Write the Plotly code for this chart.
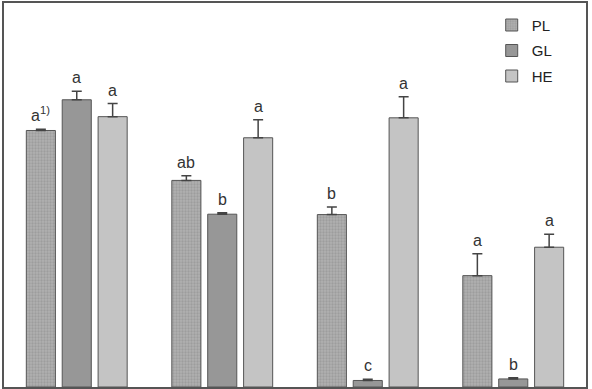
import plotly.graph_objects as go

groups = ["G1", "G2", "G3", "G4"]
series = ["PL", "GL", "HE"]
values = {
    "PL": [66.8, 53.8, 44.9, 29.0],
    "GL": [74.8, 45.0, 1.7, 2.1],
    "HE": [70.4, 64.9, 70.1, 36.4],
}
errors = {
    "PL": [0.3, 1.2, 2.0, 5.7],
    "GL": [2.2, 0.4, 0.3, 0.3],
    "HE": [3.4, 4.7, 5.5, 3.4],
}
letters = {
    "PL": ["a<sup>1)</sup>", "ab", "b", "a"],
    "GL": ["a", "b", "c", "b"],
    "HE": ["a", "a", "a", "a"],
}

styles = {
    "PL": dict(color="#b0b0b0", pattern=dict(shape=".", fgcolor="#8a8a8a", bgcolor="#b0b0b0", size=3, solidity=0.45)),
    "GL": dict(color="#979797"),
    "HE": dict(color="#c4c4c4"),
}

bargap = 0.26
bargroupgap = 0.19
slot = (1 - bargap) / len(series)

fig = go.Figure()
for j, s in enumerate(series):
    fig.add_trace(go.Bar(
        name=s, x=groups, y=values[s], legendgroup=s,
        marker=dict(line=dict(color="#555555", width=1), **styles[s]),
        error_y=dict(type="data", array=errors[s], symmetric=False, arrayminus=[0]*4,
                     color="#444444", thickness=1.5, width=5),
    ))

annotations = []
for j, s in enumerate(series):
    for i, g in enumerate(groups):
        annotations.append(dict(
            x=i + (j - 1) * slot, y=values[s][i] + errors[s][i], xref="x", yref="y",
            text=letters[s][i], showarrow=False, yanchor="bottom", xanchor="center",
            yshift=3, font=dict(family="Liberation Sans, Arial", size=16, color="#333333"),
        ))

fig.update_layout(
    width=592, height=389,
    margin=dict(l=4, r=6, t=1, b=2),
    plot_bgcolor="white", paper_bgcolor="white",
    barmode="group", bargap=bargap, bargroupgap=bargroupgap,
    showlegend=True,
    legend=dict(x=0.838, y=0.985, xanchor="left", yanchor="top",
                font=dict(family="Liberation Sans, Arial", size=15, color="#222222"),
                tracegroupgap=3, bgcolor="rgba(0,0,0,0)", itemwidth=30),
    annotations=annotations,
    font=dict(family="Liberation Sans, Arial"),
)
fig.update_xaxes(showticklabels=False, ticks="", showgrid=False, zeroline=False,
                 showline=True, mirror=True, linecolor="#555555", linewidth=2,
                 range=[-0.5, 3.5])
fig.update_yaxes(showticklabels=False, ticks="", showgrid=False, zeroline=False,
                 showline=True, mirror=True, linecolor="#555555", linewidth=2,
                 range=[0, 100])

fig.write_html("out.html")
